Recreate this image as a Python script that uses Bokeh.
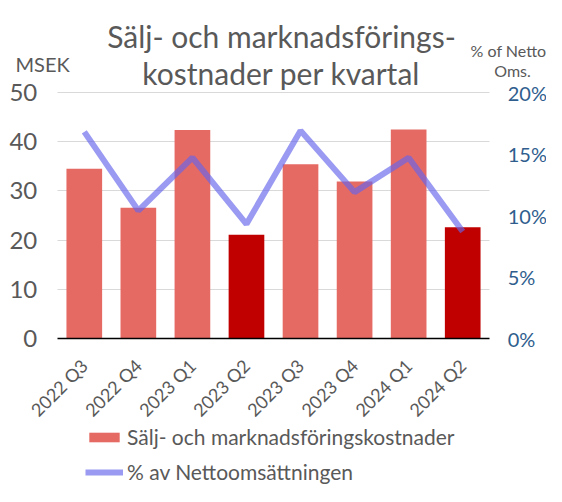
from math import pi
from bokeh.plotting import figure
from bokeh.models import (ColumnDataSource, Range1d, LinearAxis, FactorRange, Label,
                          Legend, LegendItem, PrintfTickFormatter, FixedTicker)
from bokeh.embed import file_html
from bokeh.resources import INLINE

quarters = ["2022 Q3", "2022 Q4", "2023 Q1", "2023 Q2", "2023 Q3", "2023 Q4", "2024 Q1", "2024 Q2"]
costs = [34.5, 26.6, 42.4, 21.1, 35.4, 31.9, 42.5, 22.6]
pct = [16.8, 10.4, 14.7, 9.3, 16.9, 11.9, 14.7, 8.7]
bar_colors = ["#E66A64", "#E66A64", "#E66A64", "#C00000", "#E66A64", "#E66A64", "#E66A64", "#C00000"]
left_ticks = [0, 10, 20, 30, 40, 50]
right_ticks = [0, 5, 10, 15, 20]

FONT = "Lato"
GRAY = "#595959"
BLUE = "#2F5E8E"
LINE_COLOR = "#6464EB"

# ---- layout geometry (canvas pixels) ----
W, H = 546, 486
PLOT_BOTTOM = 148          # distance of the value 0 from the canvas bottom
PLOT_TOP = 92              # distance of the value 50 / 20 % from the canvas top
PLOT_H = H - PLOT_BOTTOM - PLOT_TOP
L_MAX, R_MAX = left_ticks[-1], right_ticks[-1]
k_left = PLOT_H / L_MAX
k_right = PLOT_H / R_MAX
n = len(quarters)
pad = 1.05                 # category-widths of empty space on each side

src = ColumnDataSource(dict(q=quarters, cost=costs, pct=pct, color=bar_colors))

p = figure(width=W, height=H,
           x_range=FactorRange(factors=quarters, range_padding=pad, range_padding_units="absolute"),
           y_range=Range1d(-PLOT_BOTTOM / k_left, L_MAX + PLOT_TOP / k_left),
           output_backend="svg", toolbar_location=None, min_border=0)
p.outline_line_color = None
p.extra_y_ranges = {"pct": Range1d(-PLOT_BOTTOM / k_right, R_MAX + PLOT_TOP / k_right)}

# grid (limited to the category area)
p.xgrid.grid_line_color = None
g = p.ygrid[0]
g.ticker = FixedTicker(ticks=left_ticks[1:])
g.grid_line_color = "#D9D9D9"
g.grid_line_width = 1.2
if "cross_bounds" in g.properties():
    g.cross_bounds = (0, n)
else:
    g.grid_line_color = None
    gt = left_ticks[1:]
    p.segment(x0=[0] * len(gt), x1=[n] * len(gt), y0=gt, y1=gt,
              line_color="#D9D9D9", line_width=1.2)

bars = p.vbar(x="q", top="cost", width=0.66, fill_color="color", line_color=None, source=src)
line = p.line(x="q", y="pct", y_range_name="pct", line_color=LINE_COLOR, line_alpha=0.65,
              line_width=6, source=src)

ya = p.yaxis[0]
ya.fixed_location = 0
ya.ticker = FixedTicker(ticks=left_ticks)
ya.axis_line_color = None
ya.major_tick_line_color = None
ya.minor_tick_line_color = None
ya.major_tick_out = 0
ya.major_tick_in = 0
ya.major_label_text_font = FONT
ya.major_label_text_font_size = "24px"
ya.major_label_text_color = GRAY
ya.major_label_standoff = 20

ra = LinearAxis(y_range_name="pct", ticker=FixedTicker(ticks=right_ticks),
                formatter=PrintfTickFormatter(format="%d%%"))
ra.fixed_location = n
ra.axis_line_color = None
ra.major_tick_line_color = None
ra.minor_tick_line_color = None
ra.major_tick_out = 0
ra.major_tick_in = 0
ra.major_label_text_font = FONT
ra.major_label_text_font_size = "20px"
ra.major_label_text_color = BLUE
ra.major_label_standoff = 18
p.add_layout(ra, "right")

xa = p.xaxis[0]
xa.fixed_location = 0
xa.bounds = (0, n)
xa.axis_line_color = "black"
xa.axis_line_width = 1.5
xa.major_tick_line_color = None
xa.minor_tick_line_color = None
xa.major_tick_out = 0
xa.major_tick_in = 0
xa.major_label_orientation = pi / 4
xa.major_label_text_font = FONT
xa.major_label_text_font_size = "18px"
xa.major_label_text_color = GRAY
xa.major_label_standoff = 24


def add_label(text, x, y, size, color=GRAY, align="center"):
    # x, y: canvas pixels from the left / bottom edge
    p.add_layout(Label(x=x, y=y, x_units="screen", y_units="screen", text=text,
                       text_font=FONT, text_font_size=size, text_color=color,
                       text_align=align, text_baseline="alphabetic"))


add_label("Sälj- och marknadsförings-", 281, 451, "30px")
add_label("kostnader per kvartal", 281, 414, "30px")
add_label("MSEK", 15, 423, "20px", align="left")
add_label("% of Netto", 508, 436, "16px")
add_label("Oms.", 512, 416, "16px")

legend = Legend(items=[
    LegendItem(label="Sälj- och marknadsföringskostnader", renderers=[bars], index=0),
    LegendItem(label="% av Nettoomsättningen", renderers=[line]),
], location=(85, 2), orientation="vertical")
legend.label_text_font = FONT
legend.label_text_font_size = "21px"
legend.label_text_color = GRAY
legend.glyph_width = 38
legend.glyph_height = 12
legend.label_height = 24
legend.label_standoff = 4
legend.spacing = 10
legend.padding = 0
legend.margin = 0
legend.border_line_color = None
legend.background_fill_alpha = 0
p.add_layout(legend, "center")

open("out.html", "w").write(file_html(p, INLINE))
